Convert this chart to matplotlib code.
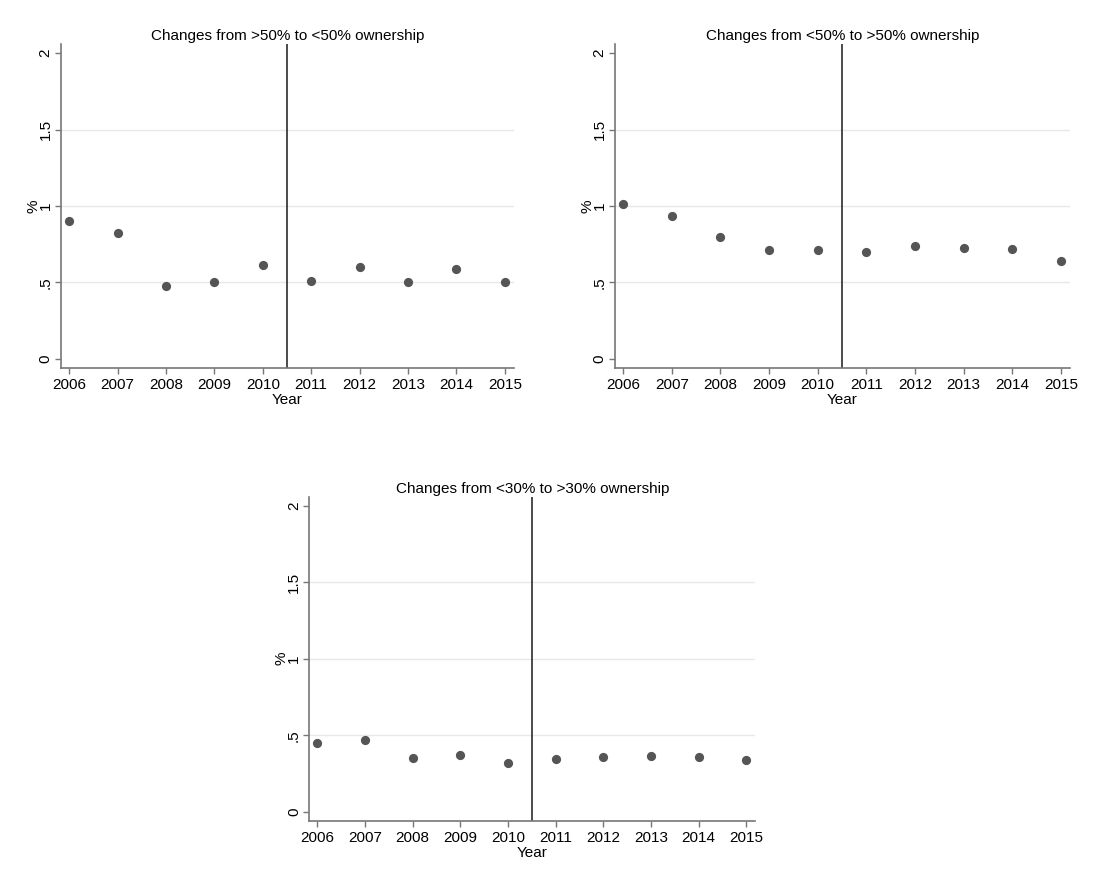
import matplotlib
matplotlib.use("Agg")
import matplotlib.pyplot as plt

plt.rcParams['font.family'] = ['Liberation Sans', 'DejaVu Sans']

# Daten
years = [2006, 2007, 2008, 2009, 2010, 2011, 2012, 2013, 2014, 2015]
above50_to_below50 = [0.902, 0.821, 0.479, 0.503, 0.612, 0.512, 0.603, 0.501, 0.586, 0.503]
below50_to_above50 = [1.011, 0.935, 0.795, 0.715, 0.713, 0.697, 0.739, 0.728, 0.721, 0.641]
below30_to_above30 = [0.449, 0.468, 0.349, 0.370, 0.320, 0.342, 0.359, 0.362, 0.357, 0.340]

titles = ['Changes from >50% to <50% ownership',
          'Changes from <50% to >50% ownership',
          'Changes from <30% to >30% ownership']
series = [above50_to_below50, below50_to_above50, below30_to_above30]
yticks = [0, 0.5, 1, 1.5, 2]
ytick_labels = ['0', '.5', '1', '1.5', '2']
cutoff = 2010.5

# Achsenpositionen (links, unten, breite, hoehe)
positions = [
    [0.0545, 0.5785, 0.4048, 0.3711],
    [0.5496, 0.5785, 0.4066, 0.3711],
    [0.2764, 0.0599, 0.3986, 0.3711],
]

fig = plt.figure(figsize=(11.19, 8.73), dpi=100)
fig.patch.set_facecolor('white')

for pos, title, vals in zip(positions, titles, series):
    ax = fig.add_axes(pos)
    ax.scatter(years, vals, s=44, color='#555555', zorder=3, linewidths=0)
    ax.axvline(cutoff, color='#1a1a1a', linewidth=1.1, zorder=2)

    ax.set_xlim(2005.83, 2015.19)
    ax.set_ylim(-0.059, 2.059)
    ax.set_xticks(years)
    ax.set_xticklabels([str(y) for y in years], fontsize=11)
    ax.set_yticks(yticks)
    ax.set_yticklabels(ytick_labels, fontsize=11, rotation=90, va='center')

    # Gitterlinien nur bei .5, 1, 1.5
    for g in [0.5, 1, 1.5]:
        ax.axhline(g, color='#e8e8e8', linewidth=1.0, zorder=1)

    for side in ['top', 'right']:
        ax.spines[side].set_visible(False)
    for side in ['left', 'bottom']:
        ax.spines[side].set_color('#777777')
        ax.spines[side].set_linewidth(1.2)
    ax.tick_params(axis='both', direction='out', length=4, width=1.0,
                   color='#777777', labelcolor='black')
    ax.tick_params(axis='y', pad=2)
    ax.tick_params(axis='x', pad=3.5)

    ax.set_title(title, fontsize=11, pad=3)
    ax.set_xlabel('Year', fontsize=11, labelpad=0.5)
    ax.set_ylabel('%', fontsize=11, labelpad=-1)

fig.savefig('out.png', dpi=100, facecolor='white')
